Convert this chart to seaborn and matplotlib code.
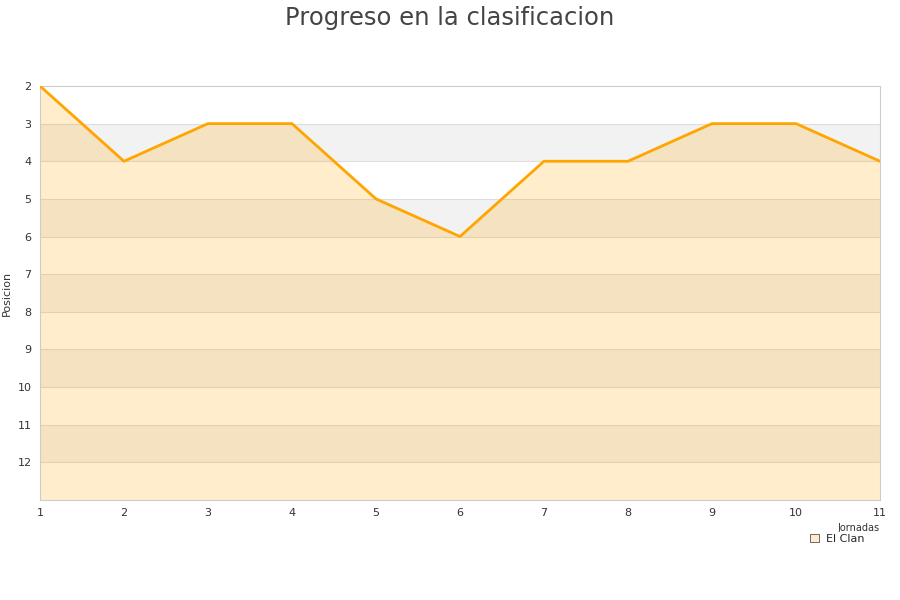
import matplotlib
matplotlib.use('Agg')
import matplotlib.pyplot as plt
import seaborn as sns
import pandas as pd

sns.set_style('white')

jornadas = [1, 2, 3, 4, 5, 6, 7, 8, 9, 10, 11]
posicion = [2, 4, 3, 3, 5, 6, 4, 4, 3, 3, 4]
y_ticks = list(range(2, 13))
team = 'El Clan'

df = pd.DataFrame({'Jornada': jornadas, 'Posicion': posicion})

fig = plt.figure(figsize=(9, 6), dpi=100)
ax = fig.add_axes([0.0444, 0.1667, 0.9334, 0.69])

# alternating bands
for y in range(2, 13):
    if y % 2 == 1:
        ax.axhspan(y, y + 1, color='#f2f2f2', zorder=0, lw=0)
for y in range(3, 13):
    ax.axhline(y, color='#dddddd', lw=0.8, zorder=1)

ax.fill_between(df['Jornada'], df['Posicion'], 13, color='orange', alpha=0.2, lw=0, zorder=2)
sns.lineplot(data=df, x='Jornada', y='Posicion', color='orange', lw=2, ax=ax, zorder=3)

ax.set_xlim(1, 11)
ax.set_ylim(13, 2)
ax.set_xticks(jornadas)
ax.set_yticks(y_ticks)
ax.tick_params(labelsize=8, colors='#333333', length=0, pad=6)
ax.set_ylabel('Posicion', fontsize=8, color='#333333')
ax.set_xlabel('Jornadas', fontsize=7, color='#333333', ha='right')
ax.xaxis.set_label_coords(1.0, -0.055)
for s in ['top', 'right', 'bottom', 'left']:
    ax.spines[s].set_color('#cccccc')
    ax.spines[s].set_linewidth(0.8)

fig.suptitle('Progreso en la clasificacion', fontsize=17.5, color='#444444', y=0.99)

handle = plt.Rectangle((0, 0), 1, 1, facecolor='#ffebcc', edgecolor='#555555', lw=0.6)
leg = fig.legend([handle], [team], loc='center', bbox_to_anchor=(0.93, 0.102),
                 frameon=True, fontsize=8, handlelength=0.8, handleheight=0.8,
                 handletextpad=0.6, borderpad=0.2)
leg.get_frame().set_facecolor('white')
leg.get_frame().set_edgecolor('white')

fig.savefig('out.png', dpi=100)
